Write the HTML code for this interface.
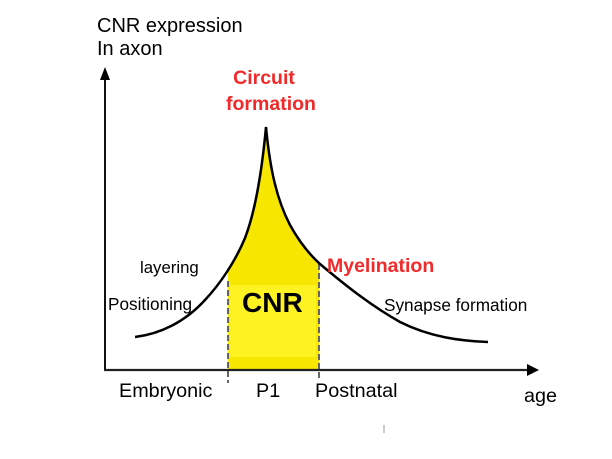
<!DOCTYPE html>
<html><head><meta charset="utf-8"><style>
html,body{margin:0;padding:0;background:#fff;}
svg{display:block;}
text{font-family:"Liberation Sans",Arial,sans-serif;}
</style></head><body>
<svg width="612" height="459" viewBox="0 0 612 459" xmlns="http://www.w3.org/2000/svg">
<rect width="612" height="459" fill="#fff"/>
<defs>
<clipPath id="c"><rect x="228" y="0" width="91" height="369"/></clipPath>
</defs>
<g clip-path="url(#c)">
<path d="M135,337 C160,334 185,322 205,300 C220,284 235,262 245,238 C255,212 262,170 266,127 C270,170 277,200 290,225 C300,243 310,255 320,264 C345,285 370,305 400,322 C430,337 460,341 488,342 L488,369 L135,369 Z" fill="#f6e600"/>
<rect x="230" y="285" width="86" height="72" fill="#fdf323"/>
</g>
<line x1="228" y1="281" x2="228" y2="383" stroke="#666" stroke-width="2" stroke-dasharray="6,3"/>
<line x1="319" y1="264" x2="319" y2="381" stroke="#666" stroke-width="2" stroke-dasharray="6,3"/>
<path d="M135,337 C160,334 185,322 205,300 C220,284 235,262 245,238 C255,212 262,170 266,127 C270,170 277,200 290,225 C300,243 310,255 320,264 C345,285 370,305 400,322 C430,337 460,341 488,342" fill="none" stroke="#000" stroke-width="2.5"/>
<line x1="105" y1="371" x2="105" y2="76" stroke="#111" stroke-width="2"/>
<polygon points="105,67 100,80 110,80" fill="#000"/>
<line x1="104" y1="370" x2="530" y2="370" stroke="#222" stroke-width="2.2"/>
<polygon points="539,370 527,364 527,376" fill="#000"/>
<line x1="384" y1="425" x2="384" y2="433" stroke="#999" stroke-width="1"/>
<text x="97" y="32" font-size="20" fill="#000">CNR expression</text>
<text x="97" y="55" font-size="20" fill="#000">In axon</text>
<text x="264" y="84" font-size="19.5" font-weight="bold" fill="#f02a2a" text-anchor="middle">Circuit</text>
<text x="271" y="110" font-size="19.5" font-weight="bold" fill="#f02a2a" text-anchor="middle">formation</text>
<text x="327" y="272" font-size="19.5" font-weight="bold" fill="#f02a2a">Myelination</text>
<text x="140" y="273" font-size="16.8" fill="#000">layering</text>
<text x="108" y="310" font-size="17.2" fill="#000">Positioning</text>
<text x="242" y="312" font-size="28" font-weight="bold" fill="#000">CNR</text>
<text x="384" y="311" font-size="17.2" fill="#000">Synapse formation</text>
<text x="119" y="397" font-size="19.8" fill="#000">Embryonic</text>
<text x="256" y="397" font-size="19.8" fill="#000">P1</text>
<text x="315" y="397" font-size="19.8" fill="#000">Postnatal</text>
<text x="524" y="402" font-size="19.8" fill="#000">age</text>
</svg>
</body></html>
